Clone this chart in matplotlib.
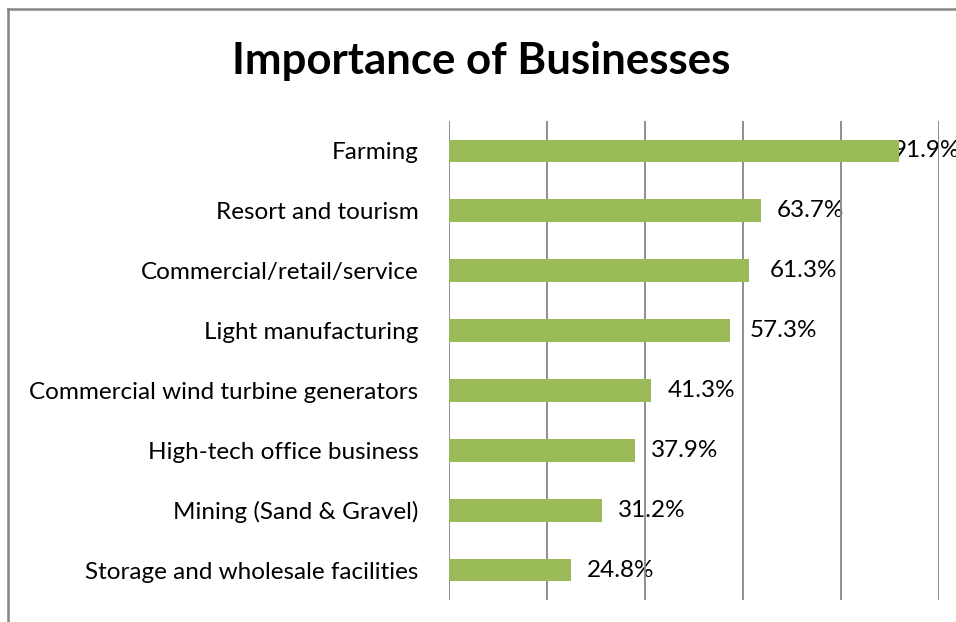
import matplotlib.pyplot as plt
from matplotlib.lines import Line2D

# Importance of businesses (survey share, %)
categories = [
    "Farming",
    "Resort and tourism",
    "Commercial/retail/service",
    "Light manufacturing",
    "Commercial wind turbine generators",
    "High-tech office business",
    "Mining (Sand & Gravel)",
    "Storage and wholesale facilities",
]
values = [91.9, 63.7, 61.3, 57.3, 41.3, 37.9, 31.2, 24.8]
value_labels = ["91.9%", "63.7%", "61.3%", "57.3%", "41.3%", "37.9%", "31.2%", "24.8%"]
grid_ticks = [0, 20, 40, 60, 80, 100]

# label gap after each bar end, in pixels
label_gap = [-7, 16, 20, 20, 16, 16, 16, 16]

plt.rcParams['font.family'] = ['Lato', 'DejaVu Sans']

fig = plt.figure(figsize=(9.56, 6.22), dpi=100)
ax = fig.add_axes([449 / 956, 22 / 622, 490 / 956, 479 / 622])

green = '#9BBB59'
grid_col = '#868686'

y = list(range(len(categories)))
ax.barh(y, values, height=0.38, color=green, zorder=2)

for g in grid_ticks:
    ax.axvline(g, color=grid_col, lw=1.3, zorder=1)

for yi, v, lab, gap in zip(y, values, value_labels, label_gap):
    ax.annotate(lab, (v, yi), xytext=(gap * 0.72, 0), textcoords='offset points',
                ha='left', va='center', fontsize=17.5, color='black',
                zorder=0.5, annotation_clip=False)

ax.set_xlim(0, 100)
ax.set_ylim(len(categories) - 0.5, -0.5)
ax.set_yticks(y)
ax.set_yticklabels(categories, fontsize=17.5)
ax.tick_params(axis='y', length=0, pad=22)
ax.set_xticks([])
for s in ax.spines.values():
    s.set_visible(False)

fig.text(481 / 956, 1 - 74 / 622, "Importance of Businesses", ha='center',
         va='baseline', fontsize=31.5, fontweight='bold')

# chart frame (left and top edges)
fig.add_artist(Line2D([8 / 956, 8 / 956], [0, 1 - 8.5 / 622], color=grid_col, lw=1.8))
fig.add_artist(Line2D([8 / 956, 1], [1 - 8.5 / 622, 1 - 8.5 / 622], color=grid_col, lw=1.8))

fig.savefig('out.png', dpi=100)
